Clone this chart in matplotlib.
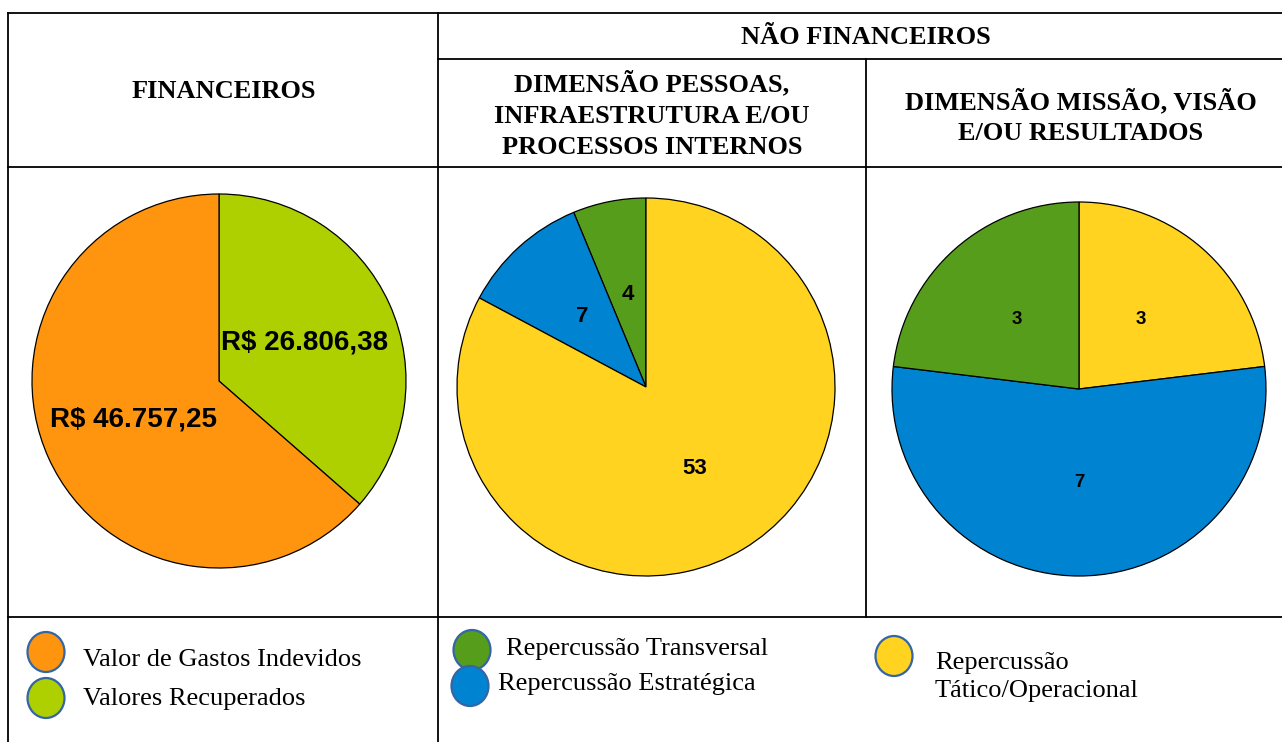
import matplotlib
matplotlib.use("Agg")
import matplotlib.pyplot as plt
from matplotlib.patches import Ellipse

# ---------------- data ----------------
fin_labels = ["Valores Recuperados", "Valor de Gastos Indevidos"]
fin_values = [26806.38, 46757.25]

pessoas_labels = ["Repercussão Transversal", "Repercussão Estratégica", "Repercussão Tático/Operacional"]
pessoas_values = [4, 7, 53]

missao_labels = ["Repercussão Tático/Operacional", "Repercussão Estratégica", "Repercussão Transversal"]
missao_values = [3, 7, 3]

header_fin = "FINANCEIROS"
header_nao = "NÃO FINANCEIROS"
header_pessoas = "DIMENSÃO PESSOAS,\nINFRAESTRUTURA E/OU\nPROCESSOS INTERNOS"
header_missao = "DIMENSÃO MISSÃO, VISÃO\nE/OU RESULTADOS"

# ---------------- style ----------------
C_ORANGE = "#ff950e"
C_LIME = "#aecf00"
C_GREEN = "#579d1c"
C_BLUE = "#0084d1"
C_YELLOW = "#ffd320"
C_OUTLINE = "#3465a4"

W, H = 1282, 742
fig = plt.figure(figsize=(W / 100, H / 100), dpi=100)
bg = fig.add_axes([0, 0, 1, 1])
bg.set_xlim(0, W)
bg.set_ylim(H, 0)
bg.axis("off")

def brl(v):
    s = f"{v:,.2f}"
    s = s.replace(",", "X").replace(".", ",").replace("X", ".")
    return "R$ " + s

# ---------------- table lines ----------------
lw = 1.3
bg.plot([8, W], [13, 13], color="black", lw=lw)
bg.plot([438, W], [59, 59], color="black", lw=lw)
bg.plot([8, W], [167, 167], color="black", lw=lw)
bg.plot([8, W], [617, 617], color="black", lw=lw)
bg.plot([8, 8], [13, H], color="black", lw=lw)
bg.plot([438, 438], [13, H], color="black", lw=lw)
bg.plot([866, 866], [59, 617], color="black", lw=lw)

# ---------------- headers ----------------
serif = "Liberation Serif"
hkw = dict(family=serif, fontweight="bold", fontsize=19, ha="center", va="center",
           linespacing=1.45)
bg.text(224, 91, header_fin, **hkw)
bg.text(866, 38, header_nao, **hkw)
bg.text(652, 115, header_pessoas, **hkw)
bg.text(1081, 117, header_missao, **hkw)

# ---------------- pies ----------------
def pie_axes(cx, cy, r):
    ax = fig.add_axes([(cx - r) / W, 1 - (cy + r) / H, 2 * r / W, 2 * r / H])
    return ax

def finish(ax):
    ax.set_xlim(-1, 1)
    ax.set_ylim(-1, 1)
    ax.set_aspect("auto")
    ax.axis("off")

wp = dict(edgecolor="black", linewidth=0.9)
sans = "Liberation Sans"

ax1 = pie_axes(219, 381, 187)
ax1.pie(fin_values, labels=[brl(v) for v in fin_values], colors=[C_LIME, C_ORANGE],
        startangle=90, counterclock=False, radius=1, labeldistance=0.5,
        wedgeprops=wp,
        textprops=dict(family=sans, fontweight="bold", fontsize=20, ha="center", va="center"))
finish(ax1)

ax2 = pie_axes(646, 387, 189)
ax2.pie(pessoas_values, labels=[str(v) for v in pessoas_values],
        colors=[C_GREEN, C_BLUE, C_YELLOW],
        startangle=90, counterclock=True, radius=1, labeldistance=0.5,
        wedgeprops=wp,
        textprops=dict(family=sans, fontweight="bold", fontsize=16, ha="center", va="center"))
finish(ax2)

ax3 = pie_axes(1079, 389, 187)
ax3.pie(missao_values, labels=[str(v) for v in missao_values],
        colors=[C_YELLOW, C_BLUE, C_GREEN],
        startangle=90, counterclock=False, radius=1, labeldistance=0.5,
        wedgeprops=wp,
        textprops=dict(family=sans, fontweight="bold", fontsize=13.5, ha="center", va="center"))
finish(ax3)

# ---------------- legends ----------------
def dot(x, y, color):
    bg.add_patch(Ellipse((x, y), 37, 40, facecolor=color, edgecolor=C_OUTLINE, lw=1.6))

lkw = dict(family=serif, fontsize=19, ha="left", va="center")
dot(46, 652, C_ORANGE)
bg.text(83, 660, fin_labels[1], **lkw)
dot(46, 698, C_LIME)
bg.text(83, 699, fin_labels[0], **lkw)

dot(472, 650, C_GREEN)
bg.text(506, 649, pessoas_labels[0], **lkw)
dot(470, 686, C_BLUE)
bg.text(498, 684, pessoas_labels[1], **lkw)

dot(894, 656, C_YELLOW)
bg.text(935, 677, pessoas_labels[2].replace(" ", "\n", 1), linespacing=1.4, **lkw)

fig.savefig("out.png", dpi=100)
